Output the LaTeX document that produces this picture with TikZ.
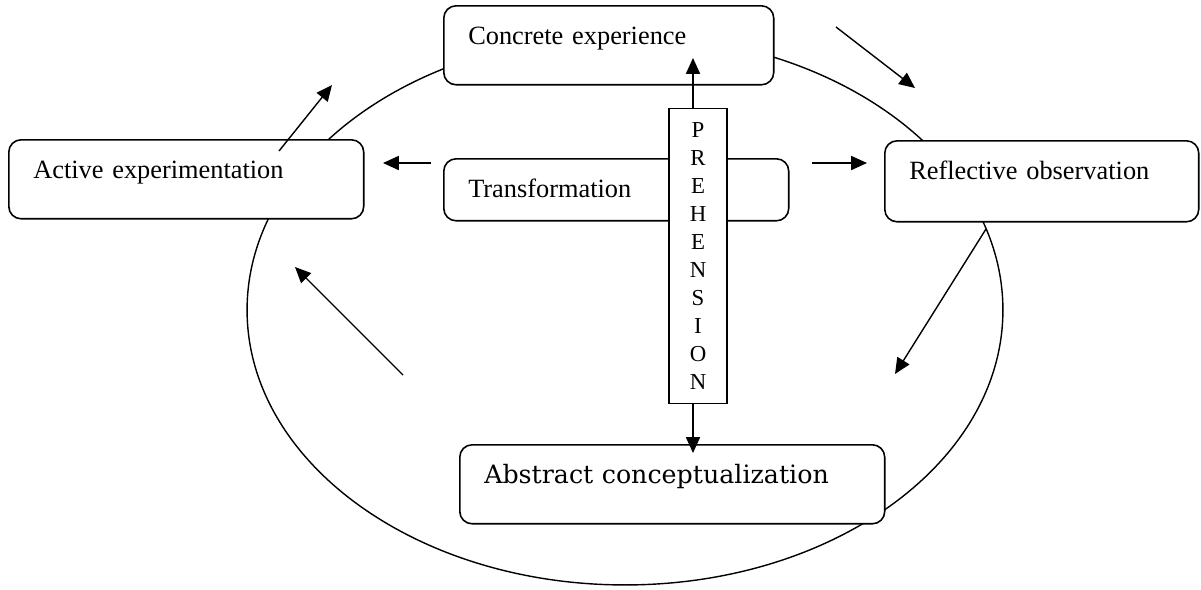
\documentclass[tikz,border=0pt]{standalone}
\usepackage{fontspec}
\setmainfont{Liberation Serif}
\newfontfamily\bookfont{DejaVu Serif}
\usetikzlibrary{calc,shapes,positioning}
\usetikzlibrary{arrows.meta}

\begin{document}
\begin{tikzpicture}[x=0.02cm,y=-0.02cm]

  \tikzstyle{bnode} = [draw, line width=0.9pt, fill=white, rectangle, rounded corners=7pt, anchor=north west, align=left, inner xsep=4.9mm, inner ysep=0pt, text height=7.8mm, text depth=8mm, font=\fontsize{15pt}{18pt}\selectfont]
  \tikzstyle{pnode} = [draw, line width=0.9pt, fill=white, rectangle, minimum width=1.16cm, minimum height=5.9cm, inner sep=0pt, align=center, font=\fontsize{13pt}{15.9pt}\selectfont]
  \tikzstyle{arr} = [-{Triangle[length=9pt,width=8pt]}, line width=0.8pt]

  \useasboundingbox (0,0) rectangle (1201,589);

  % cycle
  \draw[line width=0.8pt] (625,310) ellipse [x radius=7.56cm, y radius=5.5cm];

  \node[bnode, text width=56.2mm] (ce) at (443,5) {Concrete experience};
  \node[bnode, text width=61.2mm] (ae) at (8,139) {Active experimentation};
  \node[bnode, text width=53mm, text depth=8.4mm] (ro) at (884,140) {Reflective observation};
  \node[bnode, text width=75.2mm, font=\bookfont\fontsize{14.4pt}{18pt}\selectfont] (ac) at (459,444) {Abstract conceptualization};
  \node[bnode, text width=59.2mm, text depth=4.6mm] (tr) at (443,158) {Transformation};
  \node[pnode] (pre) at (698,256) {P\\R\\E\\H\\E\\N\\S\\I\\O\\N};

  \coordinate (ceTip) at (693,58);
  \coordinate (acTip) at (693,453);
  \draw[arr] (pre.north -| ceTip) -- (ceTip);
  \draw[arr] (pre.south -| acTip) -- (acTip);

  \coordinate (s1) at (836,27);  \coordinate (e1) at (915,88);
  \coordinate (s2) at (279,151); \coordinate (e2) at (332,85);
  \coordinate (s3) at (431,163); \coordinate (e3) at (383,163);
  \coordinate (s4) at (812,163); \coordinate (e4) at (867,163);
  \coordinate (s5) at (986,229); \coordinate (e5) at (895,374);
  \coordinate (s6) at (403,375); \coordinate (e6) at (295,267);
  \draw[arr] (s1) -- (e1);
  \draw[arr] (s2) -- (e2);
  \draw[arr] (s3) -- (e3);
  \draw[arr] (s4) -- (e4);
  \draw[arr] (s5) -- (e5);
  \draw[arr] (s6) -- (e6);

\end{tikzpicture}
\end{document}
